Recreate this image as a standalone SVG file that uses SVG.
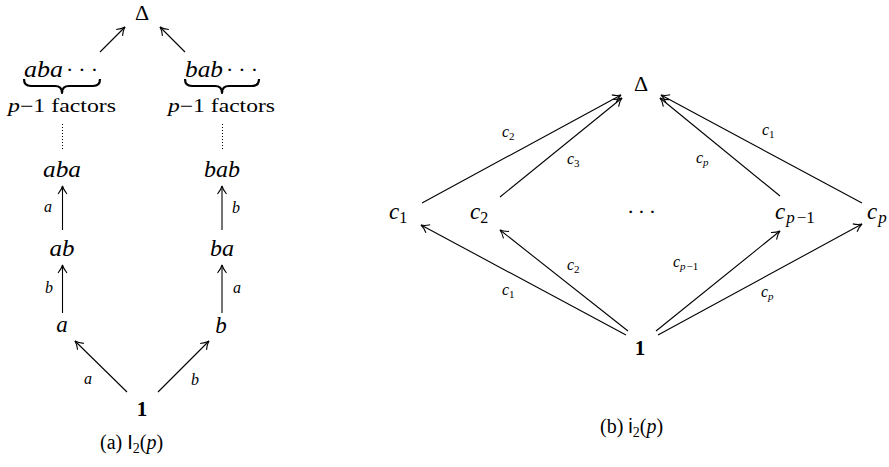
<svg xmlns="http://www.w3.org/2000/svg" width="889" height="467" viewBox="0 0 889 467" font-family="Liberation Serif, serif">
<style>
.n{font-size:23px;font-style:italic}
.e{font-size:16px;font-style:italic}
.r{font-style:normal}
.bf{font-size:21px;font-weight:bold}
.cap{font-size:20px}
.edge{stroke:#000;stroke-width:1.1;fill:none;marker-end:url(#ar)}
.brace{stroke:#000;stroke-width:2.2;fill:none;stroke-linejoin:round}
.dot{stroke:#000;stroke-width:1;stroke-dasharray:1 2;fill:none}
</style>
<defs>
<marker id="ar" markerUnits="userSpaceOnUse" markerWidth="14" markerHeight="14" viewBox="-10 -7 14 14" refX="0" refY="0" orient="auto" overflow="visible">
<path d="M-8,-4.5 C-5,-2 -2,-0.5 0,0 C-2,0.5 -5,2 -8,4.5" fill="none" stroke="#000" stroke-width="1.1"/>
</marker>
</defs>
<rect width="889" height="467" fill="#fff"/>

<g id="connectors-a">
<line class="edge" x1="100" y1="52" x2="125" y2="27"/>
<line class="edge" x1="185" y1="52" x2="160" y2="27"/>
<line class="dot" x1="62.5" y1="124" x2="62.5" y2="151"/>
<line class="dot" x1="222.5" y1="124" x2="222.5" y2="151"/>
<line class="edge" x1="62.5" y1="230" x2="62.5" y2="186"/>
<line class="edge" x1="62.5" y1="313" x2="62.5" y2="265"/>
<line class="edge" x1="222" y1="230" x2="222" y2="186"/>
<line class="edge" x1="222" y1="313" x2="222" y2="265"/>
<line class="edge" x1="127" y1="392" x2="75" y2="341"/>
<line class="edge" x1="158" y1="392" x2="209" y2="341"/>
<text class="e" x="48" y="212" text-anchor="middle">a</text>
<text class="e" x="49" y="293" text-anchor="middle">b</text>
<text class="e" x="236" y="213" text-anchor="middle">b</text>
<text class="e" x="237" y="293" text-anchor="middle">a</text>
<text class="e" x="88" y="384" text-anchor="middle">a</text>
<text class="e" x="195" y="385" text-anchor="middle">b</text>
</g>
<g id="a-delta"><text x="142" y="20" font-size="22" text-anchor="middle">Δ</text></g>
<g id="a-aba-p">
<text class="n" x="24" y="77" textLength="39" lengthAdjust="spacingAndGlyphs">aba</text>
<text x="66" y="77" font-size="22" textLength="32" lengthAdjust="spacing">···</text>
<path class="brace" d="M24,79 Q24,86 31,86 L55,86 Q62,86 62,93 Q62,86 69,86 L93,86 Q100,86 100,79"/>
<text x="8" y="112" font-size="18" textLength="108" lengthAdjust="spacingAndGlyphs"><tspan font-style="italic">p</tspan>−1 factors</text>
</g>
<g id="a-bab-p">
<text class="n" x="185" y="77" textLength="38" lengthAdjust="spacingAndGlyphs">bab</text>
<text x="226" y="77" font-size="22" textLength="32" lengthAdjust="spacing">···</text>
<path class="brace" d="M185,79 Q185,86 192,86 L215,86 Q222,86 222,93 Q222,86 229,86 L252,86 Q259,86 259,79"/>
<text x="168" y="112" font-size="18" textLength="107" lengthAdjust="spacingAndGlyphs"><tspan font-style="italic">p</tspan>−1 factors</text>
</g>
<g id="a-aba"><text class="n" x="62" y="177" text-anchor="middle" textLength="38" lengthAdjust="spacingAndGlyphs">aba</text></g>
<g id="a-bab"><text class="n" x="222" y="177" text-anchor="middle" textLength="36" lengthAdjust="spacingAndGlyphs">bab</text></g>
<g id="a-ab"><text class="n" x="62" y="256" text-anchor="middle" textLength="25" lengthAdjust="spacingAndGlyphs">ab</text></g>
<g id="a-ba"><text class="n" x="222" y="256" text-anchor="middle" textLength="24" lengthAdjust="spacingAndGlyphs">ba</text></g>
<g id="a-a"><text class="n" x="62" y="332" text-anchor="middle">a</text></g>
<g id="a-b"><text class="n" x="221" y="333" text-anchor="middle">b</text></g>
<g id="a-one"><text class="bf" x="142" y="416" text-anchor="middle">1</text></g>
<g id="cap-a"><text class="cap" x="100" y="449">(a) <tspan font-family="Liberation Sans, sans-serif">I</tspan><tspan font-size="14" dy="4">2</tspan><tspan dy="-4">(</tspan><tspan font-style="italic">p</tspan>)</text></g>

<g id="connectors-b">
<line class="edge" x1="422" y1="203" x2="621" y2="95"/>
<line class="edge" x1="500" y1="197" x2="622" y2="98"/>
<line class="edge" x1="780" y1="196" x2="660" y2="98"/>
<line class="edge" x1="862" y1="203" x2="661" y2="95"/>
<line class="edge" x1="626" y1="335" x2="421" y2="225"/>
<line class="edge" x1="628" y1="331" x2="500" y2="230"/>
<line class="edge" x1="656" y1="331" x2="780" y2="231"/>
<line class="edge" x1="658" y1="335" x2="862" y2="224"/>
<text class="e" x="502" y="137">c<tspan class="r" font-size="11" dy="3">2</tspan></text>
<text class="e" x="567" y="164">c<tspan class="r" font-size="11" dy="3">3</tspan></text>
<text class="e" x="696" y="163">c<tspan font-size="11" dy="3">p</tspan></text>
<text class="e" x="762" y="135">c<tspan class="r" font-size="11" dy="3">1</tspan></text>
<text class="e" x="567" y="270">c<tspan class="r" font-size="11" dy="3">2</tspan></text>
<text class="e" x="502" y="295">c<tspan class="r" font-size="11" dy="3">1</tspan></text>
<text class="e" x="673" y="267">c<tspan font-size="11" dy="3">p</tspan><tspan class="r" font-size="11" dx="1">−1</tspan></text>
<text class="e" x="761" y="297">c<tspan font-size="11" dy="3">p</tspan></text>
</g>
<g id="b-delta"><text x="641" y="91" font-size="22" text-anchor="middle">Δ</text></g>
<g id="b-c1"><text class="n" x="389" y="219">c<tspan class="r" font-size="16" dy="4">1</tspan></text></g>
<g id="b-c2"><text class="n" x="470" y="219">c<tspan class="r" font-size="16" dy="4">2</tspan></text></g>
<g id="b-dots"><text x="627" y="219" font-size="22" textLength="29" lengthAdjust="spacing">···</text></g>
<g id="b-cp1"><text class="n" x="775" y="219">c<tspan font-size="17" dy="4" dx="1">p</tspan><tspan class="r" font-size="17" dx="2">−1</tspan></text></g>
<g id="b-cp"><text class="n" x="867" y="219">c<tspan font-size="17" dy="4" dx="1">p</tspan></text></g>
<g id="b-one"><text class="bf" x="640" y="355" text-anchor="middle">1</text></g>
<g id="cap-b"><text class="cap" x="600" y="433">(b) <tspan font-family="Liberation Sans, sans-serif">i</tspan><tspan font-size="14" dy="4">2</tspan><tspan dy="-4">(</tspan><tspan font-style="italic">p</tspan>)</text></g>
</svg>
